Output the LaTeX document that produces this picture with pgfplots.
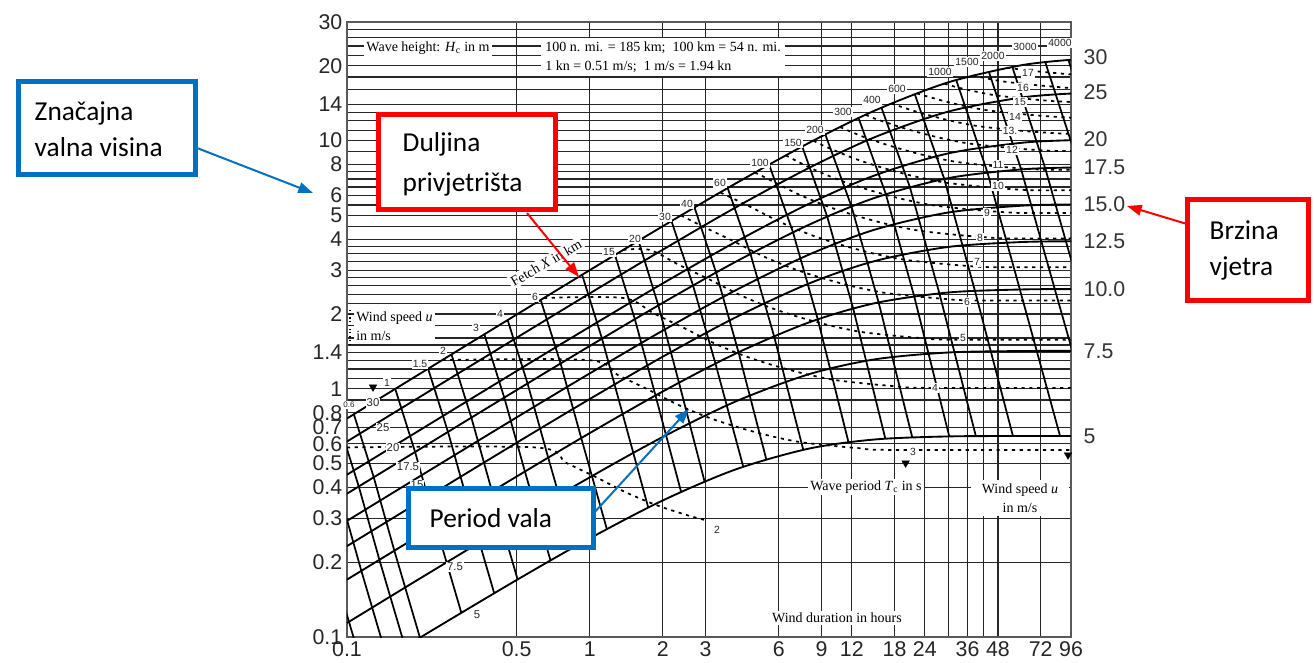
\documentclass[border=0pt]{standalone}
\usepackage{pgfplots}
\pgfplotsset{compat=1.18}
\usepackage{fontspec}
\setmainfont{Liberation Serif}
\newfontfamily\arial{Liberation Sans}
\newfontfamily\calibri{Carlito}
\usetikzlibrary{arrows.meta}
\definecolor{cblue}{RGB}{0,112,192}
\definecolor{cred}{RGB}{255,0,0}
\begin{document}
\begin{tikzpicture}
\useasboundingbox (0,0) rectangle (985.5pt,-497.25pt);
\begin{axis}[
  at={(260.25pt,-477.75pt)}, anchor=south west,
  width=543pt, height=461.25pt, scale only axis,
  xmode=log, ymode=log,
  xmin=0.1, xmax=96, ymin=0.1, ymax=30,
  xtick={0.1,0.5,1,2,3,6,9,12,18,24,36,48,72,96},
  xticklabels={0.1,0.5,1,2,3,6,9,12,18,24,36,48,72,96},
  minor xtick={30,42},
  ytick={0.1,0.2,0.3,0.4,0.5,0.6,0.7,0.8,1,1.4,2,3,4,5,6,8,10,14,20,30},
  yticklabels={0.1,0.2,0.3,0.4,0.5,0.6,0.7,0.8,1,1.4,2,3,4,5,6,8,10,14,20,30},
  minor ytick={0.9,1.1,1.2,1.3,1.5,1.6,1.8,2.2,2.4,2.6,2.8,3.25,3.5,3.75,4.5,5.5,6.5,7,7.5,9,11,12,13,16,18,22,24,26,28},
  grid=both,
  major grid style={black!85, line width=0.9pt},
  minor grid style={black!85, line width=0.9pt},
  major tick length=0pt, minor tick length=0pt,
  tick label style={font=\arial\fontsize{16}{16}\selectfont, text=black!85},
  axis line style={black!65, line width=1.3pt},
]
% wind speed curves u = 30,25,20,17.5,15,12.5,10,7.5,5 m/s
\addplot[black, line width=1.4pt, smooth] coordinates {(0.1,0.759) (0.2,1.150) (0.5,1.990) (1,3.004) (2,4.516) (4,6.72) (8,9.78) (15,13.22) (30,17.15) (60,20.09) (96,21.13)};
\addplot[black, line width=1.4pt, smooth] coordinates {(0.1,0.613) (0.2,0.928) (0.5,1.605) (1,2.421) (2,3.632) (4,5.381) (8,7.755) (15,10.33) (30,13.07) (60,14.89) (96,15.45)};
\addplot[black, line width=1.4pt, smooth] coordinates {(0.1,0.4506) (0.2,0.6823) (0.5,1.179) (1,1.776) (2,2.657) (4,3.909) (8,5.558) (15,7.246) (30,8.870) (60,9.785) (96,10.02)};
\addplot[black, line width=1.4pt, smooth] coordinates {(0.1,0.3779) (0.2,0.5721) (0.5,0.988) (1,1.487) (2,2.219) (4,3.250) (8,4.577) (15,5.881) (30,7.052) (60,7.647) (96,7.780)};
\addplot[black, line width=1.4pt, smooth] coordinates {(0.1,0.2936) (0.2,0.4445) (0.5,0.767) (1,1.153) (2,1.715) (4,2.495) (8,3.470) (15,4.379) (30,5.127) (60,5.460) (96,5.524)};
\addplot[black, line width=1.4pt, smooth] coordinates {(0.1,0.2323) (0.2,0.3516) (0.5,0.6061) (1,0.9091) (2,1.3468) (4,1.9413) (8,2.654) (15,3.272) (30,3.726) (60,3.898) (96,3.925)};
\addplot[black, line width=1.4pt, smooth] coordinates {(0.1,0.1703) (0.2,0.2575) (0.5,0.4432) (1,0.6628) (2,0.9753) (4,1.3869) (8,1.8504) (15,2.2130) (30,2.4415) (60,2.5106) (96,2.5188)};
\addplot[black, line width=1.4pt, smooth] coordinates {(0.1,0.1139) (0.2,0.1722) (0.5,0.2955) (1,0.4397) (2,0.6396) (4,0.8895) (8,1.1441) (15,1.3141) (30,1.3996) (60,1.4184) (96,1.4199)};
\addplot[black, line width=1.4pt, smooth] coordinates {(0.1,0.0659) (0.2,0.0995) (0.5,0.1697) (1,0.2496) (2,0.3550) (4,0.4736) (8,0.5740) (15,0.6249) (30,0.6426) (60,0.6449) (96,0.645)};
% fetch lines (km)
\addplot[black, line width=1.3pt] coordinates {(0.0626,0.5733) (0.0756,0.3196) (0.09195,0.1619) (0.1172,0.0724)};
\addplot[black, line width=1.3pt] coordinates {(0.078,0.654) (0.0942,0.3646) (0.1146,0.1847) (0.1460,0.0826)};
\addplot[black, line width=1.3pt] coordinates {(0.0926,0.7252) (0.1118,0.4042) (0.1360,0.2046) (0.1734,0.0914)};
\addplot[black, line width=1.3pt] coordinates {(0.1067,0.7897) (0.1289,0.4397) (0.1567,0.2227) (0.1998,0.0994)};
\addplot[black, line width=1.3pt] coordinates {(0.158,0.9988) (0.1908,0.5562) (0.2321,0.2814) (0.2958,0.1252)};
\addplot[black, line width=1.3pt] coordinates {(0.2158,1.2046) (0.2606,0.6701) (0.3170,0.3386) (0.4040,0.1501)};
\addplot[black, line width=1.3pt] coordinates {(0.2694,1.3745) (0.3253,0.7651) (0.3957,0.3862) (0.5044,0.1705)};
\addplot[black, line width=1.3pt] coordinates {(0.368,1.6564) (0.4444,0.9211) (0.5406,0.4639) (0.6890,0.2034)};
\addplot[black, line width=1.3pt] coordinates {(0.459,1.8905) (0.5543,1.0503) (0.6742,0.5279) (0.8594,0.2299)};
\addplot[black, line width=1.3pt] coordinates {(0.628,2.2789) (0.7584,1.2641) (0.9225,0.6329) (1.1758,0.2721)};
\addplot[black, line width=1.3pt] coordinates {(0.930,2.8779) (1.1231,1.5916) (1.3661,0.7909) (1.7412,0.3322)};
\addplot[black, line width=1.3pt] coordinates {(1.27,3.4603) (1.5337,1.9068) (1.8655,0.9393) (2.3778,0.3843)};
\addplot[black, line width=1.3pt] coordinates {(1.587,3.9451) (1.9165,2.1662) (2.3311,1.0582) (2.9713,0.4228)};
\addplot[black, line width=1.3pt] coordinates {(2.17,4.7349) (2.6632,2.6064) (3.2943,1.2628) (4.2873,0.4852)};
\addplot[black, line width=1.3pt] coordinates {(2.70,5.3739) (3.3137,2.9383) (4.0989,1.4027) (5.3344,0.5197)};
\addplot[black, line width=1.3pt] coordinates {(3.70,6.4303) (4.5902,3.4918) (5.7417,1.6285) (7.5765,0.5677)};
\addplot[black, line width=1.3pt] coordinates {(5.48,7.9965) (6.8725,4.2661) (8.6929,1.9041) (11.631,0.6093)};
\addplot[black, line width=1.3pt] coordinates {(7.5,9.4525) (9.507,4.9368) (12.162,2.1055) (16.5,0.6292)};
\addplot[black, line width=1.3pt] coordinates {(9.34,10.573) (11.968,5.4191) (15.482,2.2278) (21.297,0.6373)};
\addplot[black, line width=1.3pt] coordinates {(12.8,12.306) (16.580,6.0771) (21.688,2.3593) (30.250,0.6427)};
\addplot[black, line width=1.3pt] coordinates {(15.9,13.556) (20.818,6.4953) (27.540,2.4237) (38.947,0.6442)};
\addplot[black, line width=1.3pt] coordinates {(21.8,15.388) (28.852,7.0005) (38.599,2.4798) (55.348,0.645)};
\addplot[black, line width=1.3pt] coordinates {(32.3,17.532) (43.447,7.4429) (59.106,2.5101) (86.535,0.645)};
\addplot[black, line width=1.3pt] coordinates {(44.0,18.964) (59.827,7.6454) (82.306,2.5175) (122.18,0.645)};
\addplot[black, line width=1.3pt] coordinates {(55.0,19.803) (75.185,7.7288) (104.02,2.518)};
\addplot[black, line width=1.3pt] coordinates {(75.2,20.676) (103.9,7.79)};
\addplot[black, line width=1.3pt] coordinates {(93.7,21.088) (129.5,7.80)};
% wave period lines (s)
\tikzset{tper/.style={black, line width=1.3pt, dash pattern=on 2.4pt off 3.4pt, smooth, tension=0.5}}
\addplot[tper] coordinates {(0.1,0.58) (0.6,0.58) (0.798,0.5034) (1.061,0.4405) (1.411,0.3823) (1.876,0.3402) (2.494,0.3104) (3.016,0.2951)};
\addplot[tper] coordinates {(0.247,1.305) (0.9867,1.305) (1.3118,1.1326) (1.7445,0.9910) (2.3197,0.8601) (3.0844,0.7654) (4.1007,0.6984) (5.4535,0.6477) (7.2513,0.6110) (9.645,0.5910) (12.817,0.5764) (17.05,0.567) (96,0.567)};
\addplot[tper] coordinates {(0.6472,2.32) (1.3757,2.32) (1.829,2.0135) (2.4322,1.7618) (3.2343,1.5291) (4.3004,1.3607) (5.7174,1.2417) (7.6035,1.1514) (10.11,1.0862) (13.448,1.0507) (17.871,1.0247) (23.772,1.008) (96,1.008)};
\addplot[tper] coordinates {(1.3743,3.625) (1.762,3.625) (2.3426,3.1461) (3.1152,2.7528) (4.1425,2.3892) (5.508,2.1261) (7.3229,1.9401) (9.7386,1.7991) (12.949,1.6972) (17.224,1.6418) (22.889,1.6012) (30.447,1.5751) (96,1.5751)};
\addplot[tper] coordinates {(2.3755,4.99) (2.8858,4.5304) (3.8376,3.9641) (5.1031,3.4405) (6.7853,3.0615) (9.021,2.7937) (11.997,2.5907) (15.952,2.444) (21.218,2.3641) (28.196,2.3057) (37.508,2.2681) (96,2.2681)};
\addplot[tper] coordinates {(3.457,6.1665) (4.5972,5.3955) (6.1131,4.6829) (8.1282,4.1671) (10.806,3.8026) (14.371,3.5262) (19.109,3.3266) (25.417,3.2179) (33.777,3.1383) (44.931,3.0871) (96,3.0871)};
\addplot[tper] coordinates {(4.79,7.424) (5.3516,7.0472) (7.1163,6.1164) (9.4621,5.4427) (12.58,4.9667) (16.73,4.6057) (22.245,4.3449) (29.588,4.2029) (39.319,4.099) (52.306,4.0322) (96,4.0322)};
\addplot[tper] coordinates {(6.4235,8.705) (8.1288,7.741) (10.808,6.8884) (14.37,6.2859) (19.11,5.829) (25.41,5.4989) (33.798,5.3193) (44.914,5.1878) (59.747,5.1032) (96,5.1032)};
\addplot[tper] coordinates {(8.35,9.982) (9.1118,9.557) (12.115,8.5043) (16.108,7.7604) (21.421,7.1964) (28.482,6.7889) (37.885,6.5671) (50.345,6.4047) (66.972,6.3003) (96,6.3003)};
\addplot[tper] coordinates {(10.751,11.32) (13.577,10.29) (18.05,9.3901) (24.005,8.7075) (31.917,8.2146) (42.454,7.9463) (56.417,7.7497) (75.049,7.6233) (96,7.6233)};
\addplot[tper] coordinates {(13.708,12.683) (14.928,12.246) (19.846,11.175) (26.393,10.363) (35.094,9.776) (46.679,9.457) (62.031,9.223) (82.517,9.072) (96,9.072)};
\addplot[tper] coordinates {(17.487,14.088) (21.826,13.115) (29.027,12.162) (38.595,11.473) (51.336,11.098) (68.221,10.824) (90.751,10.647) (96,10.647)};
\addplot[tper] coordinates {(22.255,15.489) (23.55,15.21) (31.319,14.105) (41.643,13.306) (55.39,12.871) (73.608,12.553) (96,12.35)};
\addplot[tper] coordinates {(28.914,16.923) (34.111,16.192) (45.356,15.275) (60.328,14.776) (80.171,14.41) (96,14.29)};
\addplot[tper] coordinates {(37.88,18.29) (48.481,17.38) (64.486,16.812) (85.695,16.396) (96,16.25)};
\addplot[tper] coordinates {(52.302,19.62) (69.568,18.979) (92.449,18.51) (96,18.47)};
% small markers
\addplot[only marks, mark=triangle*, mark size=3.2pt, mark options={rotate=180, fill=black, draw=black}] coordinates {(0.128,1.016) (20.0,0.502) (93.3,0.541)};
\end{axis}
% right axis: wind speed at full development
\begin{axis}[
  at={(260.25pt,-477.75pt)}, anchor=south west,
  width=543pt, height=461.25pt, scale only axis,
  xmode=log, ymode=log,
  xmin=0.1, xmax=96, ymin=0.1, ymax=30,
  hide x axis, axis y line*=right, axis line style={draw=none},
  ytick={21.7,15.7,10.1,7.82,5.54,3.93,2.52,1.42,0.645},
  yticklabels={30,25,20,17.5,15.0,12.5,10.0,7.5,5},
  major tick length=0pt,
  yticklabel style={font=\arial\fontsize{16}{16}\selectfont, text=black!80, anchor=west, xshift=6pt},
]
\addplot[draw=none] coordinates {(1,1)};
\end{axis}
\begin{scope}[x=0.75pt, y=-0.75pt]
% chart texts
\tikzset{tm/.style={fill=white, inner sep=1.5pt, font=\fontsize{10.5}{14}\selectfont},
         sm/.style={fill=white, inner sep=0.8pt, font=\arial\fontsize{7.8}{8}\selectfont, text=black!85},
         wl/.style={fill=white, inner sep=0.8pt, font=\arial\fontsize{8.5}{9}\selectfont, text=black!85}}
\node[tm] at (428,48) {Wave height: \textit{H}\textsubscript{c} in m};
\node[tm, anchor=west, align=left, inner sep=3pt] at (541,57) {100 n. mi. = 185 km;\ \ 100 km = 54 n. mi.\\1 kn = 0.51 m/s;\ \ 1 m/s = 1.94 kn};
\node[tm, anchor=west, align=left] at (354,326) {Wind speed \textit{u}\\in m/s};
\draw[black, line width=0.8pt, dotted] (350,310) -- (350,344);
\node[tm, rotate=30] at (546,263) {Fetch \textit{X} in km};
\node[tm] at (866,487) {Wave period \textit{T}\textsubscript{c} in s};
\node[tm, align=center, minimum width=74pt, inner sep=3pt] at (1020,498) {Wind speed \textit{u}\\in m/s};
\node[tm] at (837,618) {Wind duration in hours};
% fetch labels
\node[sm, font=\arial\fontsize{6}{6}\selectfont] at (349,405) {0.6};
\foreach \lab/\px/\py in {1/387/383, 1.5/420/364, 2/443/351, 3/476/328, 4/500/314, 6/535/297, 15/609/252, 20/635/239, 30/665/217, 40/687/204, 60/720/183, 100/760/163, 150/793/143, 200/815/130, 300/843/112, 400/872/100, 600/897/89, 1000/940/72, 1500/967/62, 2000/993/56, 3000/1025/47, 4000/1060/43}
  {\node[sm] at (\px,\py) {\lab};}
% wind speed labels (left)
\foreach \lab/\px/\py in {30/373/403, 25/383/428, 20/393/448, 17.5/408/467, 15/417/485, 7.5/455/567, 5/477/615}
  {\node[wl] at (\px,\py) {\lab};}
% period labels
\foreach \lab/\px/\py in {17/1028/73, 16/1023/88, 15/1020/102, 14/1015/117, 13./1010/131, 12/1012/150, 11/998/165, 10/998/186, 9/987/213, 8/980/238, 7/977/262, 6/967/302, 5/963/338, 4/935/388, 3/913/452, 2/717/530}
  {\node[sm] at (\px,\py) {\lab};}
% callouts
\tikzset{cl/.style={font=\calibri\fontsize{20.5}{27}\selectfont, anchor=west, align=left}}
\filldraw[fill=white, draw=cblue, line width=3.75pt] (18,82) rectangle (195,175);
\node[cl] at (30,129) {Značajna\\valna visina};
\draw[cblue, line width=1.5pt, -{Triangle[length=11pt,width=8pt]}] (197,148) -- (313,193);
\filldraw[fill=white, draw=cred, line width=3.75pt] (378,115) rectangle (555,210);
\node[cl, font=\calibri\fontsize{20.5}{30}\selectfont] at (398,164) {Duljina\\privjetrišta};
\draw[cred, line width=1.5pt, -{Triangle[length=11pt,width=8pt]}] (527,213) -- (579,277);
\filldraw[fill=white, draw=cblue, line width=3.75pt] (408,488) rectangle (593,547);
\node[cl] at (425,518) {Period vala};
\draw[cblue, line width=1.5pt, -{Triangle[length=11pt,width=8pt]}] (593,514) -- (689,409);
\filldraw[fill=white, draw=cred, line width=3.75pt] (1187,200) rectangle (1308,300);
\node[cl] at (1205,250) {Brzina\\vjetra};
\draw[cred, line width=1.5pt, -{Triangle[length=11pt,width=8pt]}] (1187,224) -- (1127,206);
\end{scope}
\end{tikzpicture}
\end{document}
